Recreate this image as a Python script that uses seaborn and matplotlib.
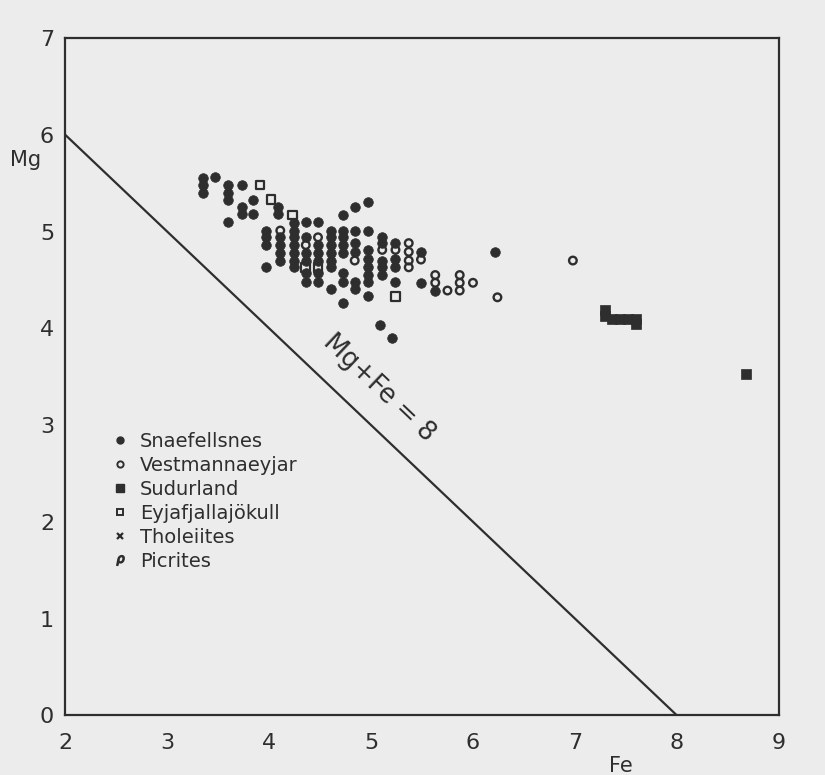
import matplotlib
matplotlib.use("Agg")
import matplotlib.pyplot as plt
from matplotlib.lines import Line2D
import seaborn as sns
import pandas as pd

# ---- data ----
snae_fe = [3.35, 3.35, 3.35, 3.47, 3.60, 3.60, 3.60, 3.73, 3.84, 3.73, 3.73, 3.84,
           4.09, 4.09, 3.60, 4.36, 4.48, 4.73, 4.84, 4.97,
           3.97, 3.97, 3.97, 3.97,
           4.11, 4.11, 4.11, 4.11,
           4.24, 4.24, 4.24, 4.24, 4.24, 4.24, 4.24,
           4.36, 4.36, 4.36, 4.36, 4.36,
           4.48, 4.48, 4.48, 4.48, 4.48,
           4.61, 4.61, 4.61, 4.61, 4.61, 4.61, 4.61,
           4.73, 4.73, 4.73, 4.73, 4.73, 4.73, 4.73,
           4.84, 4.84, 4.84, 4.84, 4.84,
           4.97, 4.97, 4.97, 4.97, 4.97, 4.97, 4.97,
           5.11, 5.11, 5.11, 5.11, 5.11,
           5.24, 5.24, 5.24, 5.24,
           5.49, 5.49, 5.63, 6.22, 5.09, 5.21]
snae_mg = [5.55, 5.48, 5.40, 5.56, 5.48, 5.40, 5.33, 5.48, 5.33, 5.25, 5.18, 5.18,
           5.25, 5.18, 5.10, 5.10, 5.10, 5.17, 5.25, 5.31,
           5.01, 4.94, 4.86, 4.63,
           4.94, 4.86, 4.78, 4.70,
           5.09, 5.01, 4.94, 4.86, 4.78, 4.70, 4.63,
           4.94, 4.78, 4.70, 4.57, 4.48,
           4.86, 4.78, 4.70, 4.57, 4.48,
           5.01, 4.94, 4.86, 4.78, 4.70, 4.63, 4.41,
           5.01, 4.94, 4.86, 4.78, 4.57, 4.48, 4.26,
           5.01, 4.88, 4.79, 4.48, 4.41,
           5.01, 4.81, 4.72, 4.63, 4.55, 4.48, 4.33,
           4.94, 4.88, 4.70, 4.63, 4.55,
           4.88, 4.72, 4.63, 4.48,
           4.79, 4.47, 4.39, 4.79, 4.03, 3.90]

vest_fe = [4.11, 4.36, 4.48, 4.84, 5.11, 5.24, 5.37, 5.37, 5.37, 5.37,
           5.49, 5.63, 5.63, 5.75, 5.87, 5.87, 5.87, 6.00, 6.24, 6.98]
vest_mg = [5.01, 4.86, 4.94, 4.70, 4.81, 4.81, 4.88, 4.79, 4.70, 4.63,
           4.71, 4.55, 4.47, 4.39, 4.55, 4.47, 4.39, 4.47, 4.32, 4.70]

sudu_fe = [7.30, 7.30, 7.36, 7.44, 7.52, 7.60, 7.60, 8.68]
sudu_mg = [4.19, 4.13, 4.10, 4.10, 4.10, 4.10, 4.04, 3.53]

eyja_fe = [3.91, 4.02, 4.23, 4.36, 4.48, 5.24]
eyja_mg = [5.48, 5.33, 5.17, 4.63, 4.63, 4.33]

line_fe = [2, 8]
line_mg = [6, 0]

legend_labels = ["Snaefellsnes", "Vestmannaeyjar", "Sudurland",
                 "Eyjafjallajökull", "Tholeiites", "Picrites"]
x_ticks = [2, 3, 4, 5, 6, 7, 8, 9]
y_ticks = [0, 1, 2, 3, 4, 5, 6, 7]

# ---- style ----
sns.set_style("white")
plt.rcParams["font.family"] = ["DejaVu Sans"]
ink = "#2e2e2e"
bg = "#ececec"

fig = plt.figure(figsize=(8.25, 7.75), dpi=100, facecolor=bg)
ax = fig.add_axes([0.079, 0.077, 0.865, 0.874])
ax.set_facecolor(bg)

df_line = pd.DataFrame({"Fe": line_fe, "Mg": line_mg})
sns.lineplot(data=df_line, x="Fe", y="Mg", ax=ax, color=ink, linewidth=1.6)

sns.scatterplot(x=snae_fe, y=snae_mg, ax=ax, marker="o", s=48,
                color=ink, edgecolor=ink, linewidth=0.5, zorder=3)
sns.scatterplot(x=vest_fe, y=vest_mg, ax=ax, marker="o", s=30,
                facecolor="none", edgecolor=ink, linewidth=1.7, zorder=3)
sns.scatterplot(x=sudu_fe, y=sudu_mg, ax=ax, marker="s", s=42,
                color=ink, edgecolor=ink, linewidth=0.5, zorder=3)
sns.scatterplot(x=eyja_fe, y=eyja_mg, ax=ax, marker="s", s=40,
                facecolor="none", edgecolor=ink, linewidth=1.6, zorder=3)

ax.set_xlim(2, 9)
ax.set_ylim(0, 7)
ax.set_xticks(x_ticks)
ax.set_yticks(y_ticks)
ax.tick_params(axis="both", direction="out", length=5, width=1.4,
               color=ink, labelsize=16, labelcolor=ink)
ax.tick_params(axis="x", pad=8)
ax.tick_params(axis="y", pad=3)
for sp in ax.spines.values():
    sp.set_color(ink)
    sp.set_linewidth(1.6)

ax.set_xlabel("Fe", fontsize=15, color=ink)
ax.xaxis.set_label_coords(0.779, -0.06)
ax.set_ylabel("Mg", fontsize=15, color=ink, rotation=0, va="center")
ax.yaxis.set_label_coords(-0.055, 5.74 / 7)

ax.text(5.08, 3.38, "Mg+Fe = 8", rotation=-43.5, rotation_mode="anchor",
        ha="center", va="center", fontsize=18.5, color=ink)

handles = [
    Line2D([], [], linestyle="", marker="o", markersize=5, color=ink),
    Line2D([], [], linestyle="", marker="o", markersize=4.5, markerfacecolor="none",
           markeredgecolor=ink, markeredgewidth=1.4),
    Line2D([], [], linestyle="", marker="s", markersize=5.5, color=ink),
    Line2D([], [], linestyle="", marker="s", markersize=5, markerfacecolor="none",
           markeredgecolor=ink, markeredgewidth=1.4),
    Line2D([], [], linestyle="", marker="x", markersize=4.5, color=ink,
           markeredgewidth=1.6),
    Line2D([], [], linestyle="", marker="$\\rho$", markersize=7, color=ink),
]
leg = ax.legend(handles, legend_labels, loc="upper left",
                bbox_to_anchor=(0.05, 0.433), frameon=False, fontsize=14,
                handlelength=1.0, handletextpad=0.5, labelspacing=0.26,
                borderpad=0)
for t in leg.get_texts():
    t.set_color(ink)

fig.savefig("out.png", dpi=100, facecolor=bg)
